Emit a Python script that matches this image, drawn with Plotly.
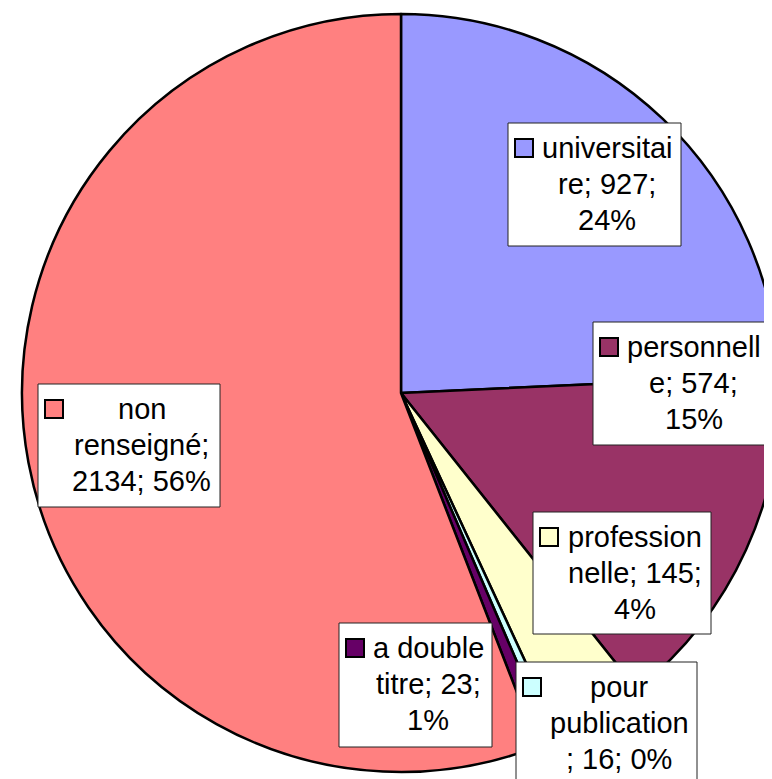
import plotly.graph_objects as go

W, H = 772, 779
OFF = 8  # page body margin of the written html

# ---- data ----
labels = ["universitaire", "personnelle", "professionnelle",
          "pour publication", "a double titre", "non renseigné"]
values = [927, 574, 145, 16, 23, 2134]
colors = ["#9999FF", "#993366", "#FFFFCC", "#CCFFFF", "#660066", "#FF8080"]
# character positions where Excel wrapped each label text
wrap_at = [(11, 20), (10, 18), (10, 22), (4, 16), (8, 20), (3, 14)]

# ---- layout constants (window-pixel positions of the label boxes) ----
boxes = [(508, 123, 681, 246), (593, 322, 769, 445), (533, 512, 711, 634),
         (516, 662, 697, 785), (339, 623, 492, 747), (38, 384, 220, 507)]
FONT = "Liberation Sans, Arial, sans-serif"
FS = 29
PIE_CX, PIE_CY, PIE_R = 401, 393, 379


def px(x):
    return (x - OFF) / W


def py(y):
    return 1 - (y - OFF) / H


total = sum(values)

fig = go.Figure()
fig.add_trace(go.Pie(
    labels=labels, values=values, sort=False, direction="clockwise",
    rotation=0, marker=dict(colors=colors, line=dict(color="black", width=2.5)),
    textinfo="none", showlegend=False,
    domain=dict(x=[max(0, px(PIE_CX - PIE_R)), min(1, px(PIE_CX + PIE_R))],
                y=[max(0, py(PIE_CY + PIE_R)), min(1, py(PIE_CY - PIE_R))]),
))

shapes = []
annotations = []
for lab, val, col, (a, b), (x0, y0, x1, y1) in zip(labels, values, colors, wrap_at, boxes):
    pct = round(100 * val / total)
    full = f"{lab}; {val}; {pct}%"
    lines = [full[:a].strip(), full[a:b].strip(), full[b:].strip()]
    shapes.append(dict(type="rect", xref="paper", yref="paper",
                       x0=px(x0), x1=px(x1), y0=py(y1), y1=py(y0),
                       fillcolor="white", line=dict(color="#222222", width=1),
                       layer="above"))
    kx0, ky0 = x0 + 7, y0 + 16
    shapes.append(dict(type="rect", xref="paper", yref="paper",
                       x0=px(kx0), x1=px(kx0 + 18), y0=py(ky0 + 18), y1=py(ky0),
                       fillcolor=col, line=dict(color="black", width=2),
                       layer="above"))
    cx = (kx0 + 18 + x1) / 2
    for i, t in enumerate(lines):
        base = y0 + 35 + 36 * i
        annotations.append(dict(text=t, xref="paper", yref="paper",
                                x=px(cx), y=py(base - 10), xanchor="center",
                                yanchor="middle", showarrow=False,
                                font=dict(family=FONT, size=FS, color="black")))

fig.update_layout(width=W, height=H, margin=dict(l=0, r=0, t=0, b=0),
                  paper_bgcolor="white", plot_bgcolor="white",
                  shapes=shapes, annotations=annotations,
                  font=dict(family=FONT))
fig.write_html("out.html")
